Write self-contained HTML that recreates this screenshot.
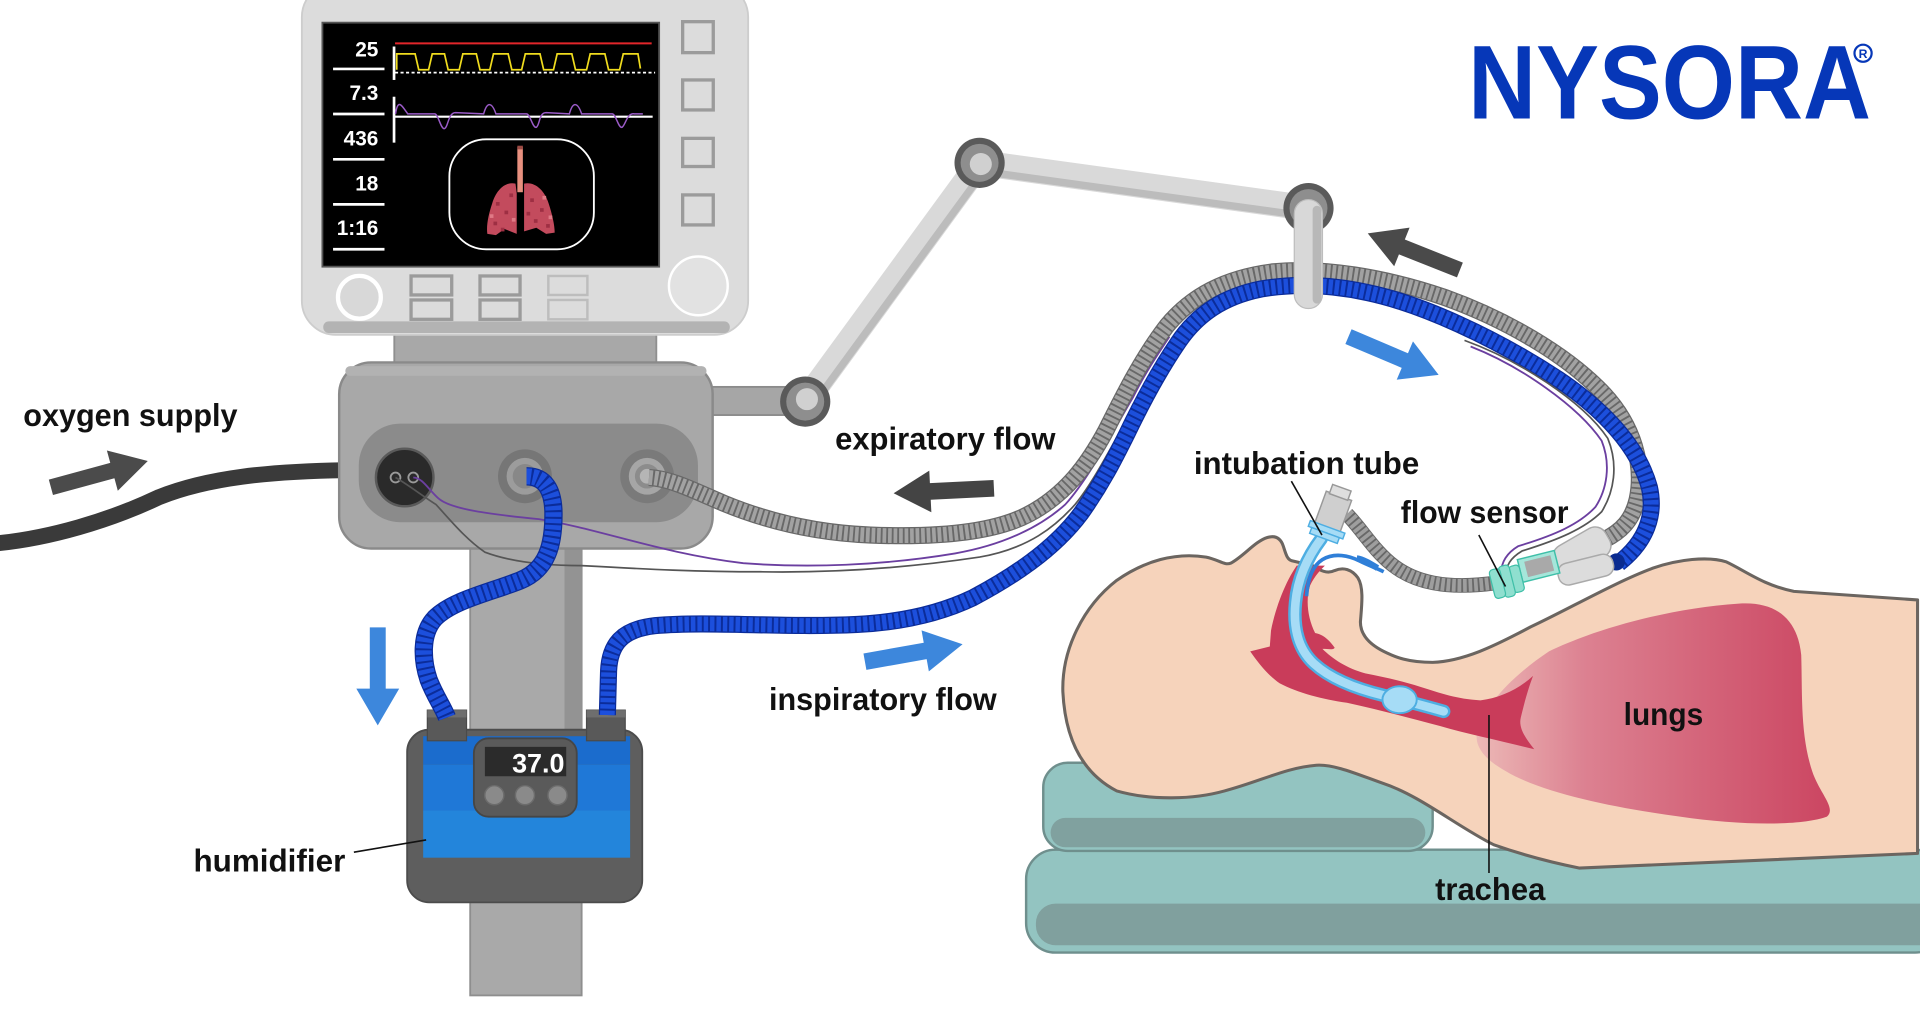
<!DOCTYPE html>
<html>
<head>
<meta charset="utf-8">
<style>
html,body{margin:0;padding:0;background:#fff;}
svg{display:block;}
.lbl{font-family:"Liberation Sans",Arial,sans-serif;font-weight:bold;font-size:26px;fill:#111;}
.num{font-family:"Liberation Sans",Arial,sans-serif;font-weight:bold;font-size:17px;fill:#fff;}
</style>
</head>
<body>
<svg width="1920" height="1015" viewBox="0 0 1568 829" preserveAspectRatio="none" xmlns="http://www.w3.org/2000/svg">
<defs>
  <linearGradient id="lungGrad" x1="1206" y1="0" x2="1500" y2="0" gradientUnits="userSpaceOnUse">
    <stop offset="0" stop-color="#ecb8b6"/>
    <stop offset="0.3" stop-color="#dc8191"/>
    <stop offset="1" stop-color="#cb4460"/>
  </linearGradient>
  <path id="hoseG" fill="none" d="M 530 390 C 548 391, 565 400, 591 411 C 620 423, 660 435, 711 437 C 760 439, 810 436, 840 420 C 870 404, 888 380, 903 352 C 918 322, 933 292, 953 266 C 973 242, 1000 227, 1040 222 C 1080 218, 1130 226, 1180 243 C 1230 261, 1280 290, 1310 322 C 1334 348, 1343 380, 1337 408 C 1333 425, 1324 434, 1310 441"/>
  <path id="hoseB" fill="none" d="M 496 584 L 497 548 C 498 526, 508 514, 535 511 C 580 507, 640 513, 700 510 C 740 508, 770 500, 795 488 C 825 472, 860 450, 883 419 C 900 395, 910 375, 920 355 C 932 330, 945 305, 962 280 C 978 256, 1000 242, 1030 236 C 1060 231, 1090 233, 1117 239 C 1160 248, 1220 275, 1273 310 C 1310 335, 1338 365, 1347 398 C 1352 420, 1345 442, 1322 460"/>
  <path id="hoseB1" fill="none" d="M 430 389 C 445 389, 452 400, 452 420 C 452 445, 447 465, 425 474 C 400 484, 370 490, 355 505 C 343 518, 345 540, 350 555 C 355 568, 362 578, 365 586"/>
  <path id="hoseS" fill="none" d="M 1100 420 C 1112 432, 1122 450, 1138 462 C 1155 475, 1180 482, 1222 476"/>
</defs>

<rect x="0" y="0" width="1568" height="829" fill="#fff"/>

<!-- oxygen hose -->
<path d="M -5 444 C 40 440, 90 425, 130 406 C 170 390, 220 385, 282 384" fill="none" stroke="#3a3a3a" stroke-width="13"/>

<!-- arm -->
<rect x="575" y="316" width="85" height="23" fill="#a6a6a6" stroke="#8b8b8b" stroke-width="1.5"/>
<line x1="657.6" y1="328" x2="800" y2="133" stroke="#d9d9d9" stroke-width="21"/>
<line x1="663" y1="332" x2="805.4" y2="137" stroke="#bcbcbc" stroke-width="6"/>
<line x1="800" y1="133" x2="1068" y2="170" stroke="#d9d9d9" stroke-width="21"/>
<line x1="799" y1="139.5" x2="1067" y2="176.5" stroke="#bcbcbc" stroke-width="6"/>
<circle cx="657.6" cy="328" r="20.5" fill="#5a5a5a"/>
<circle cx="657.6" cy="328" r="15.5" fill="#8e8e8e"/>
<circle cx="659" cy="326" r="9" fill="#d0d0d0"/>
<circle cx="800" cy="133" r="20.5" fill="#5a5a5a"/>
<circle cx="800" cy="133" r="15.5" fill="#8e8e8e"/>
<circle cx="801" cy="134" r="9" fill="#d0d0d0"/>
<circle cx="1068.6" cy="170" r="20.5" fill="#5a5a5a"/>
<circle cx="1068.6" cy="170" r="15.5" fill="#8e8e8e"/>

<!-- monitor neck -->
<rect x="322" y="270" width="214" height="28" fill="#a8a8a8" stroke="#8f8f8f" stroke-width="1.5"/>

<!-- monitor -->
<rect x="246.5" y="-14" width="364.5" height="287.5" rx="28" fill="#dcdcdc" stroke="#cdcdcd" stroke-width="1.5"/>
<rect x="264" y="262.5" width="332" height="9.5" rx="4.5" fill="#b3b3b3"/>
<rect x="263.3" y="18.5" width="275" height="199.3" fill="#000" stroke="#555" stroke-width="1.5"/>
<text class="num" x="309" y="46.3" text-anchor="end">25</text>
<text class="num" x="309" y="81.7" text-anchor="end">7.3</text>
<text class="num" x="309" y="119" text-anchor="end">436</text>
<text class="num" x="309" y="155.7" text-anchor="end">18</text>
<text class="num" x="309" y="191.9" text-anchor="end">1:16</text>
<g stroke="#fff" stroke-width="2.2">
  <line x1="272" y1="56.3" x2="314" y2="56.3"/>
  <line x1="272" y1="93.1" x2="314" y2="93.1"/>
  <line x1="272" y1="130.1" x2="314" y2="130.1"/>
  <line x1="272" y1="166.9" x2="314" y2="166.9"/>
  <line x1="272" y1="203.6" x2="314" y2="203.6"/>
  <line x1="321.8" y1="38" x2="321.8" y2="65.3"/>
  <line x1="321.8" y1="79" x2="321.8" y2="116.5"/>
</g>
<line x1="322.6" y1="35.4" x2="532.2" y2="35.4" stroke="#e3262b" stroke-width="1.6"/>
<line x1="322.6" y1="59.3" x2="535" y2="59.3" stroke="#fff" stroke-width="1.4" stroke-dasharray="2.5 2"/>
<path d="M324,57 L324,44 L339,44 L342,57 L350,57 L353,44 L363,44 L366,57 L375,57 L378,44 L389,44 L392,57 L400,57 L403,44 L415,44 L418,57 L426,57 L429,44 L441,44 L444,57 L452,57 L455,44 L467,44 L470,57 L479,57 L482,44 L494,44 L497,57 L506,57 L509,44 L521,44 L523,56" fill="none" stroke="#f0dc1e" stroke-width="1.4"/>
<line x1="322.6" y1="95.3" x2="533" y2="95.3" stroke="#fff" stroke-width="1.8"/>
<path d="M323,93 C325,80 328,86 333,93 L355,93 C358,93 360,106 363,105 C366,104 366,92 372,92 L395,93 C398,82 402,84 405,93 L430,93 C433,93 435,105 438,104 C441,102 440,92 446,92 L465,93 C468,82 472,84 475,93 L500,93 C503,93 505,105 508,104 C511,102 512,92 518,93 L525,93" fill="none" stroke="#9a5bc7" stroke-width="1.2"/>
<rect x="367" y="113.8" width="118" height="89.8" rx="30" fill="none" stroke="#fff" stroke-width="1.5"/>
<rect x="422.5" y="120" width="4.5" height="37" fill="#e8907f"/>
<rect x="422.5" y="119" width="4.5" height="3" fill="#9a4a44"/>
<path d="M421 150 C412 148, 405 156, 402 166 C399 175, 397 184, 398 191 L405 192 L412 187 L422 191 L422 158 Z" fill="#c34b5d"/>
<path d="M428 150 C437 148, 445 156, 448 166 C451 175, 453 184, 453 190 L446 191 L438 186 L428 189 L428 158 Z" fill="#c34b5d"/>
<g fill="#9e2f43">
  <rect x="405" y="165" width="3" height="3"/><rect x="412" y="172" width="3" height="3"/><rect x="403" y="181" width="3" height="3"/><rect x="416" y="158" width="3" height="3"/><rect x="409" y="186" width="3" height="3"/>
  <rect x="433" y="162" width="3" height="3"/><rect x="441" y="170" width="3" height="3"/><rect x="436" y="179" width="3" height="3"/><rect x="446" y="183" width="3" height="3"/><rect x="430" y="173" width="3" height="3"/>
</g>
<g fill="#e07a86">
  <rect x="400" y="175" width="3" height="3"/><rect x="418" y="178" width="3" height="3"/><rect x="443" y="160" width="3" height="3"/><rect x="448" y="176" width="3" height="3"/>
</g>
<g fill="none" stroke="#9b9b9b" stroke-width="2.7">
  <rect x="557.5" y="17.7" width="25" height="25.3"/>
  <rect x="557.5" y="65.3" width="25" height="24.5"/>
  <rect x="557.5" y="113" width="25" height="23"/>
  <rect x="557.5" y="159.2" width="25" height="24.5"/>
  <rect x="335.7" y="225.4" width="33.2" height="15.5"/>
  <rect x="335.7" y="245" width="33.2" height="15.8"/>
  <rect x="392" y="225.4" width="32.7" height="15.5"/>
  <rect x="392" y="245" width="32.7" height="15.8"/>
</g>
<g fill="none" stroke="#bdbdbd" stroke-width="2">
  <rect x="447.8" y="225.4" width="31.9" height="15.5"/>
  <rect x="447.8" y="245" width="31.9" height="15.8"/>
</g>
<circle cx="570.3" cy="233.5" r="24" fill="#e2e2e2" stroke="#fff" stroke-width="2"/>
<circle cx="293.5" cy="242.8" r="17.5" fill="#d8d8d8" stroke="#fff" stroke-width="3.5"/>

<!-- pole -->
<rect x="384" y="440" width="91" height="373" fill="#a9a9a9" stroke="#8e8e8e" stroke-width="1.5"/>
<rect x="461" y="448" width="14" height="150" fill="#939393"/>

<!-- ventilator body -->
<rect x="277" y="296" width="305" height="152" rx="26" fill="#a8a8a8" stroke="#8a8a8a" stroke-width="2"/>
<rect x="282" y="299" width="295" height="8" rx="4" fill="#b2b2b2"/>
<rect x="293" y="346" width="277" height="80.5" rx="34" fill="#8b8b8b"/>
<circle cx="330.5" cy="390" r="23.5" fill="#2a2a2a" stroke="#5a5a5a" stroke-width="2"/>
<circle cx="323" cy="390" r="4" fill="none" stroke="#9a9a9a" stroke-width="1.5"/>
<circle cx="337.5" cy="390" r="4" fill="none" stroke="#9a9a9a" stroke-width="1.5"/>
<circle cx="428.7" cy="389" r="22" fill="#767676"/>
<circle cx="428.7" cy="389" r="15" fill="#9c9c9c"/>
<circle cx="428.7" cy="389" r="10" fill="#888"/>
<circle cx="528.5" cy="389" r="22" fill="#7a7a7a"/>
<circle cx="528.5" cy="389" r="15" fill="#a6a6a6"/>
<circle cx="528.5" cy="389" r="10" fill="#8c8c8c"/>
<circle cx="528.5" cy="389" r="6" fill="#b5b5b5"/>

<!-- humidifier -->
<rect x="332.5" y="596" width="192" height="141" rx="18" fill="#5e5e5e" stroke="#4c4c4c" stroke-width="1.5"/>
<rect x="345.6" y="601.3" width="169" height="23.2" fill="#1b6ccd"/>
<rect x="345.6" y="624.5" width="169" height="37.5" fill="#1f78d7"/>
<rect x="345.6" y="662" width="169" height="38.5" fill="#2385db"/>
<rect x="349" y="580" width="32" height="25" fill="#595959" stroke="#4a4a4a" stroke-width="1"/>
<rect x="349" y="580" width="32" height="6" fill="#6e6e6e"/>
<rect x="479" y="580" width="31.6" height="25" fill="#595959" stroke="#4a4a4a" stroke-width="1"/>
<rect x="479" y="580" width="31.6" height="6" fill="#6e6e6e"/>
<rect x="387" y="603" width="84" height="64" rx="12" fill="#5a5a5a" stroke="#464646" stroke-width="1.5"/>
<rect x="396" y="610" width="66.4" height="24" fill="#2b2b2b"/>
<text x="461" y="631" text-anchor="end" style="font-family:'Liberation Sans',Arial,sans-serif;font-weight:bold;font-size:22px;fill:#fff;">37.0</text>
<circle cx="403.7" cy="649.5" r="7.8" fill="#8a8a8a" stroke="#6c6c6c" stroke-width="1.2"/>
<circle cx="428.7" cy="649.5" r="7.8" fill="#8a8a8a" stroke="#6c6c6c" stroke-width="1.2"/>
<circle cx="455.3" cy="649.5" r="7.8" fill="#8a8a8a" stroke="#6c6c6c" stroke-width="1.2"/>

<!-- pillows -->
<rect x="838" y="694" width="750" height="84" rx="24" fill="#93c4c1" stroke="#6f8f8d" stroke-width="2"/>
<rect x="846" y="738" width="740" height="34" rx="16" fill="#80a09e"/>
<rect x="852" y="623" width="318" height="72" rx="20" fill="#93c4c1" stroke="#6f8f8d" stroke-width="2"/>
<rect x="858" y="668" width="306" height="24" rx="12" fill="#80a19f"/>

<!-- body -->
<path d="M 912 646 C 885 632, 870 605, 868 565 C 867 530, 885 495, 912 474 C 935 458, 960 451, 985 455 C 995 457, 1000 462, 1005 460 C 1015 455, 1025 442, 1035 439 C 1042 437, 1046 440, 1048 446 C 1050 452, 1051 457, 1055 458 L 1072 462 C 1078 466, 1084 469, 1090 466 C 1097 463, 1104 465, 1109 472 C 1114 480, 1112 495, 1111 508 C 1111 518, 1118 526, 1130 532 C 1140 537, 1150 541, 1170 541 C 1195 540, 1220 528, 1250 512 C 1280 498, 1320 475, 1350 464 C 1370 457, 1395 454, 1410 459 C 1425 466, 1440 478, 1465 483 L 1566 490 L 1566 697 L 1290 709 C 1260 703, 1240 697, 1220 690 C 1190 675, 1160 650, 1130 640 C 1110 633, 1090 624, 1075 625 C 1050 627, 1030 638, 1000 646 C 975 653, 940 654, 912 646 Z" fill="#f6d3bb" stroke="#6b6560" stroke-width="2.5" stroke-linejoin="round"/>

<!-- lungs -->
<path d="M 1206 600 C 1210 578, 1235 552, 1265 532 C 1300 515, 1360 497, 1420 493 C 1450 491, 1468 505, 1471 535 C 1472 565, 1470 600, 1480 630 C 1486 648, 1500 660, 1492 667 C 1470 675, 1420 674, 1372 667 C 1320 660, 1260 648, 1230 630 C 1212 620, 1205 610, 1206 600 Z" fill="url(#lungGrad)"/>

<!-- airway -->
<path d="M 1059 462 C 1050 475, 1042 495, 1038 515 L 1037 528 L 1021 532 C 1028 542, 1036 552, 1045 558 C 1060 566, 1080 571, 1100 574 C 1127 580, 1150 586, 1176 593 C 1200 600, 1230 606, 1253 612 C 1245 602, 1240 594, 1242 586 C 1244 578, 1247 565, 1252 552 C 1240 563, 1225 570, 1209 572 C 1190 571, 1176 566, 1160 561 C 1145 556, 1130 553, 1115 550 C 1100 546, 1088 538, 1080 530 C 1085 530, 1089 531, 1090 529 C 1085 522, 1080 518, 1074 517 C 1068 505, 1066 490, 1070 478 C 1074 470, 1078 466, 1082 462 Z" fill="#c93c5a"/>

<!-- intubation tube -->
<path d="M 1079 440 C 1070 452, 1060 470, 1058 492 C 1056 512, 1060 530, 1073 542 C 1085 553, 1105 562, 1130 568 C 1150 573, 1165 577, 1179 581" fill="none" stroke="#4eaee2" stroke-width="11" stroke-linecap="round"/>
<path d="M 1079 440 C 1070 452, 1060 470, 1058 492 C 1056 512, 1060 530, 1073 542 C 1085 553, 1105 562, 1130 568 C 1150 573, 1165 577, 1179 581" fill="none" stroke="#a6dcf6" stroke-width="7" stroke-linecap="round"/>
<ellipse cx="1143" cy="571.5" rx="14" ry="11" fill="#a6dcf6" stroke="#4eaee2" stroke-width="1.6"/>
<path d="M 1067 487 C 1068 472, 1072 462, 1080 457 C 1090 451, 1102 454, 1110 458 C 1118 462, 1124 464, 1130 467" fill="none" stroke="#2f7fd8" stroke-width="3"/>
<path d="M 1108 456 C 1114 457, 1120 461, 1125 464" fill="none" stroke="#2f7fd8" stroke-width="5"/>

<!-- wires (left) -->
<path d="M 337.5 390 C 345 390, 350 400, 358 407 C 368 416, 400 420, 440 424 C 490 432, 540 452, 607 460 C 660 464, 720 462, 780 452 C 820 445, 850 430, 870 412 C 890 390, 910 350, 925 325 C 935 305, 945 290, 955 275" fill="none" stroke="#6b3fa0" stroke-width="1.5"/>
<path d="M 323 390 C 332 395, 345 405, 356 412 C 368 425, 380 440, 396 451 C 420 460, 450 462, 475 462 C 530 465, 570 467, 621 467 C 680 468, 740 464, 800 455 C 840 448, 862 430, 878 412 C 896 390, 914 352, 929 327 C 939 307, 948 292, 957 278" fill="none" stroke="#555" stroke-width="1.4"/>

<!-- corrugated hoses -->
<use href="#hoseG" stroke="#686868" stroke-width="14"/>
<use href="#hoseG" stroke="#a2a2a2" stroke-width="12" stroke-dasharray="3 1.5"/>
<use href="#hoseB1" stroke="#0b2c9a" stroke-width="15"/>
<use href="#hoseB1" stroke="#1c4fdc" stroke-width="13" stroke-dasharray="3.6 1.6"/>
<use href="#hoseB" stroke="#0b2c9a" stroke-width="14"/>
<use href="#hoseB" stroke="#1c4fdc" stroke-width="12" stroke-dasharray="3.6 1.6"/>
<circle cx="1320" cy="459" r="7" fill="#0a2b90"/>

<!-- wires (right) -->
<path d="M 1201 283 C 1242 299, 1289 332, 1308 360 C 1316 380, 1312 400, 1303 414 C 1290 428, 1270 437, 1240 446 C 1230 452, 1226 460, 1226 468" fill="none" stroke="#6b3fa0" stroke-width="1.5"/>
<path d="M 1196 278 C 1240 294, 1292 327, 1313 358 C 1322 380, 1318 402, 1308 418 C 1294 432, 1272 441, 1243 450 C 1233 456, 1230 462, 1230 470" fill="none" stroke="#555" stroke-width="1.4"/>

<!-- hanger -->
<rect x="1057" y="163" width="23" height="89" rx="11.5" fill="#d8d8d8" stroke="#bdbdbd" stroke-width="1"/>
<rect x="1072" y="168" width="7" height="80" rx="3.5" fill="#b8b8b8"/>

<!-- short gray hose -->
<use href="#hoseS" stroke="#686868" stroke-width="12"/>
<use href="#hoseS" stroke="#9e9e9e" stroke-width="10.5" stroke-dasharray="3 1.5"/>

<!-- tube connector -->
<g transform="rotate(20 1088 420)">
  <rect x="1077" y="404" width="22" height="28" fill="#cfcfcf" stroke="#999" stroke-width="1.2"/>
  <rect x="1080" y="397" width="16" height="8" fill="#dedede" stroke="#999" stroke-width="1.2"/>
  <rect x="1073" y="431" width="30" height="5" fill="#a6dcf6" stroke="#4eaee2" stroke-width="1.2"/>
  <rect x="1076" y="436" width="24" height="5" fill="#a6dcf6" stroke="#4eaee2" stroke-width="1.2"/>
</g>

<!-- Y-piece and flow sensor -->
<g transform="rotate(-30 1292 450)">
  <rect x="1268" y="437" width="48" height="26" rx="10" fill="#dcdcdc" stroke="#aaa" stroke-width="1.2"/>
</g>
<g transform="rotate(-14 1296 465)">
  <rect x="1272" y="456" width="46" height="18" rx="8" fill="#dcdcdc" stroke="#aaa" stroke-width="1.2"/>
</g>
<g transform="rotate(-14 1245 468)">
  <rect x="1242" y="456" width="31" height="19" fill="#a5e6da" stroke="#3fbfa8" stroke-width="1.2"/>
  <rect x="1247" y="459" width="22" height="13" fill="#a9a9a9"/>
  <rect x="1233" y="460" width="9" height="22" rx="3" fill="#8fdfcf" stroke="#3fbfa8" stroke-width="1"/>
  <rect x="1225" y="458" width="9" height="26" rx="3" fill="#8fdfcf" stroke="#3fbfa8" stroke-width="1"/>
  <rect x="1217" y="459" width="9" height="24" rx="3" fill="#8fdfcf" stroke="#3fbfa8" stroke-width="1"/>
</g>

<!-- arrows -->
<g transform="translate(120.7 376.5) rotate(-15.2)"><polygon points="-82,-6.5 -30,-6.5 -30,-17 0,0 -30,17 -30,6.5 -82,6.5" fill="#4b4b4b"/></g>
<g transform="translate(729.8 402.9) rotate(177.15)"><polygon points="-82,-6.8 -30,-6.8 -30,-17 0,0 -30,17 -30,6.8 -82,6.8" fill="#444"/></g>
<g transform="translate(1117 190.6) rotate(-158.3)"><polygon points="-81,-6.5 -30,-6.5 -30,-17 0,0 -30,17 -30,6.5 -81,6.5" fill="#4a4a4a"/></g>
<g transform="translate(1174.9 306.2) rotate(23)"><polygon points="-80,-6.5 -30,-6.5 -30,-17 0,0 -30,17 -30,6.5 -80,6.5" fill="#3d87dc"/></g>
<g transform="translate(786.1 526.2) rotate(-10.1)"><polygon points="-81,-6.8 -31,-6.8 -31,-17 0,0 -31,17 -31,6.8 -81,6.8" fill="#3d87dc"/></g>
<g transform="translate(308.5 592.4) rotate(90)"><polygon points="-80,-6.5 -30,-6.5 -30,-17.5 0,0 -30,17.5 -30,6.5 -80,6.5" fill="#3d87dc"/></g>

<!-- leader lines -->
<g stroke="#111" stroke-width="1.3">
  <line x1="289" y1="696" x2="348" y2="686"/>
  <line x1="1054.6" y1="393" x2="1079.6" y2="437"/>
  <line x1="1207.7" y1="437" x2="1229.5" y2="479"/>
  <line x1="1216" y1="584" x2="1216" y2="713"/>
</g>

<!-- labels -->
<text class="lbl" x="19" y="348" textLength="175" lengthAdjust="spacingAndGlyphs">oxygen supply</text>
<text class="lbl" x="682" y="367" textLength="180" lengthAdjust="spacingAndGlyphs">expiratory flow</text>
<text class="lbl" x="628" y="580" textLength="186" lengthAdjust="spacingAndGlyphs">inspiratory flow</text>
<text class="lbl" x="158" y="712" textLength="124" lengthAdjust="spacingAndGlyphs">humidifier</text>
<text class="lbl" x="975" y="387" textLength="184" lengthAdjust="spacingAndGlyphs">intubation tube</text>
<text class="lbl" x="1144" y="427" textLength="137" lengthAdjust="spacingAndGlyphs">flow sensor</text>
<text class="lbl" x="1326" y="592" textLength="65" lengthAdjust="spacingAndGlyphs">lungs</text>
<text class="lbl" x="1172" y="735" textLength="90" lengthAdjust="spacingAndGlyphs">trachea</text>

<!-- logo -->
<text x="1199" y="96.6" textLength="329" lengthAdjust="spacingAndGlyphs" style="font-family:'Liberation Sans',Arial,sans-serif;font-weight:bold;font-size:86px;fill:#0637b8;">NYSORA</text>
<circle cx="1521.5" cy="43.5" r="7" fill="none" stroke="#0637b8" stroke-width="1.8"/>
<text x="1521.5" y="47.5" text-anchor="middle" style="font-family:'Liberation Sans',Arial,sans-serif;font-weight:bold;font-size:10px;fill:#0637b8;">R</text>
</svg>
</body>
</html>
